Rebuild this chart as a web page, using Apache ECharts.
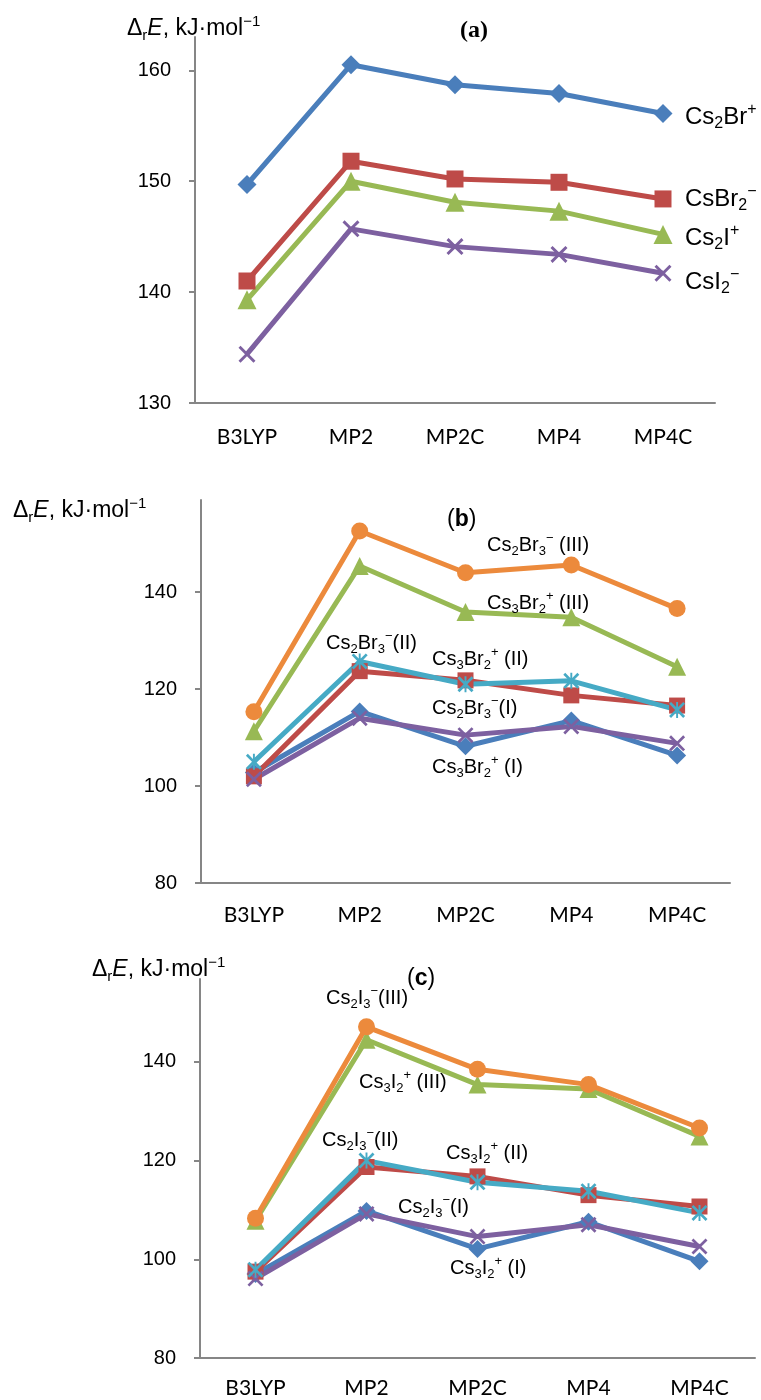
<!DOCTYPE html>
<html>
<head>
<meta charset="utf-8">
<script src="https://cdn.jsdelivr.net/npm/echarts@6/dist/echarts.min.js"></script>
<style>
  html, body { margin: 0; padding: 0; background: #fff; }
  #chart { width: 761px; height: 1400px; }
</style>
</head>
<body>
<div id="chart"></div>
<script>
// categories (methods)
const methods = ["B3LYP", "MP2", "MP2C", "MP4", "MP4C"];

// panel (a)
const cs2BrPlus = [149.7, 160.5, 158.7, 157.9, 156.1];
const csBr2Minus = [141.0, 151.8, 150.2, 149.9, 148.4];
const cs2IPlus = [139.3, 150.0, 148.1, 147.3, 145.2];
const csI2Minus = [134.4, 145.7, 144.1, 143.4, 141.7];

// panel (b)
const cs3Br2PlusI = [102.8, 115.4, 108.2, 113.5, 106.3];
const cs3Br2PlusII = [102.0, 123.7, 121.8, 118.7, 116.6];
const cs3Br2PlusIII = [111.3, 145.4, 135.9, 134.8, 124.6];
const cs2Br3MinusI = [101.4, 114.0, 110.5, 112.3, 108.8];
const cs2Br3MinusII = [105.0, 125.7, 121.0, 121.7, 115.7];
const cs2Br3MinusIII = [115.3, 152.6, 144.0, 145.6, 136.6];

// panel (c)
const cs3I2PlusI = [97.0, 109.8, 102.1, 107.6, 99.6];
const cs3I2PlusII = [97.5, 118.7, 116.8, 113.0, 110.7];
const cs3I2PlusIII = [107.8, 144.5, 135.4, 134.5, 124.9];
const cs2I3MinusI = [96.1, 109.2, 104.6, 107.0, 102.6];
const cs2I3MinusII = [97.9, 120.0, 115.6, 113.8, 109.4];
const cs2I3MinusIII = [108.3, 147.1, 138.5, 135.4, 126.6];

// y tick labels
const ticksA = [130, 140, 150, 160];
const ticksBC = [80, 100, 120, 140];

const BLUE = "#4A7EBB", RED = "#BE4B48", GREEN = "#98B954",
      PURPLE = "#7D60A0", TEAL = "#46AAC5", ORANGE = "#EC8A3C";
const AXIS = "#868686";
const SANS = "'Liberation Sans', Arial, sans-serif";

const X_SYMBOL = "path://M0,1.2L1.2,0L5,3.8L8.8,0L10,1.2L6.2,5L10,8.8L8.8,10L5,6.2L1.2,10L0,8.8L3.8,5Z";
const STAR_SYMBOL = X_SYMBOL + "M4.4,0L5.6,0L5.6,10L4.4,10Z";

const chart = echarts.init(document.getElementById("chart"));

function xAxisFor(i, margin) {
  return {
    gridIndex: i,
    type: "category",
    data: methods,
    boundaryGap: true,
    axisLine: { lineStyle: { color: AXIS, width: 2 } },
    axisTick: { length: 6, lineStyle: { color: AXIS, width: 2 } },
    axisLabel: { margin: margin, fontFamily: "Lato, 'Open Sans', sans-serif", fontSize: 21, color: "#000" },
    splitLine: { show: false }
  };
}

function yAxisFor(i, min, max, interval, ticks) {
  return {
    gridIndex: i,
    type: "value",
    min: min,
    max: max,
    interval: interval,
    axisLine: { show: true, lineStyle: { color: AXIS, width: 2 } },
    axisTick: { show: true, length: 6, customValues: ticks, lineStyle: { color: AXIS, width: 2 } },
    axisLabel: { margin: 24, customValues: ticks, fontFamily: SANS, fontSize: 20, color: "#000" },
    splitLine: { show: false }
  };
}

function line(name, data, idx, color, symbol, size) {
  return {
    name: name,
    type: "line",
    xAxisIndex: idx,
    yAxisIndex: idx,
    data: data,
    symbol: symbol,
    symbolSize: size,
    lineStyle: { color: color, width: 5 },
    itemStyle: { color: color },
    emphasis: { disabled: true }
  };
}

function richStyles(f) {
  const s = Math.round(f * 0.66);
  return {
    n: { fontSize: f, fontFamily: SANS, color: "#000", lineHeight: f + 6 },
    i: { fontSize: f, fontFamily: SANS, fontStyle: "italic", color: "#000", lineHeight: f + 6 },
    bb: { fontSize: f, fontFamily: SANS, fontWeight: "bold", color: "#000", lineHeight: f + 6 },
    b: { fontSize: s, fontFamily: SANS, color: "#000", lineHeight: s, verticalAlign: "bottom" },
    p: { fontSize: s, fontFamily: SANS, color: "#000", lineHeight: s, verticalAlign: "top" }
  };
}

function label(x, y, text, f) {
  return {
    type: "text",
    x: x,
    y: y,
    z: 100,
    style: { text: text, rich: richStyles(f), align: "left", verticalAlign: "middle" }
  };
}

const yTitle = "{n|Δ}{b|r}{i|E}{n|, kJ·mol}{p|−1}";

const option = {
  animation: false,
  backgroundColor: "#fff",
  grid: [
    { left: 195, top: 37, width: 520, height: 366 },
    { left: 201, top: 500, width: 529, height: 383 },
    { left: 200, top: 979, width: 555, height: 379 }
  ],
  xAxis: [xAxisFor(0, 24), xAxisFor(1, 22), xAxisFor(2, 20)],
  yAxis: [
    yAxisFor(0, 130, 163, 10, ticksA),
    yAxisFor(1, 80, 159, 20, ticksBC),
    yAxisFor(2, 80, 156.8, 20, ticksBC)
  ],
  series: [
    line("Cs2Br+", cs2BrPlus, 0, BLUE, "diamond", 19),
    line("CsBr2-", csBr2Minus, 0, RED, "rect", 17),
    line("Cs2I+", cs2IPlus, 0, GREEN, "triangle", 19),
    line("CsI2-", csI2Minus, 0, PURPLE, X_SYMBOL, 17),

    line("Cs3Br2+ (I)", cs3Br2PlusI, 1, BLUE, "diamond", 18),
    line("Cs3Br2+ (II)", cs3Br2PlusII, 1, RED, "rect", 16),
    line("Cs3Br2+ (III)", cs3Br2PlusIII, 1, GREEN, "triangle", 18),
    line("Cs2Br3- (I)", cs2Br3MinusI, 1, PURPLE, X_SYMBOL, 16),
    line("Cs2Br3- (II)", cs2Br3MinusII, 1, TEAL, STAR_SYMBOL, 16),
    line("Cs2Br3- (III)", cs2Br3MinusIII, 1, ORANGE, "circle", 17),

    line("Cs3I2+ (I)", cs3I2PlusI, 2, BLUE, "diamond", 18),
    line("Cs3I2+ (II)", cs3I2PlusII, 2, RED, "rect", 16),
    line("Cs3I2+ (III)", cs3I2PlusIII, 2, GREEN, "triangle", 18),
    line("Cs2I3- (I)", cs2I3MinusI, 2, PURPLE, X_SYMBOL, 16),
    line("Cs2I3- (II)", cs2I3MinusII, 2, TEAL, STAR_SYMBOL, 16),
    line("Cs2I3- (III)", cs2I3MinusIII, 2, ORANGE, "circle", 17)
  ],
  graphic: [
    // axis titles
    label(127, 29, yTitle, 23),
    label(13, 511, yTitle, 23),
    label(92, 970, yTitle, 23),
    // panel tags
    { type: "text", x: 474, y: 31, z: 100,
      style: { text: "(a)", font: "bold 24px 'Liberation Serif', serif", fill: "#000", align: "center", verticalAlign: "middle" } },
    label(447, 520, "{n|(}{bb|b}{n|)}", 23),
    label(407, 979, "{n|(}{bb|c}{n|)}", 23),
    // panel (a) series names
    label(685, 117, "{n|Cs}{b|2}{n|Br}{p|+}", 24),
    label(685, 199, "{n|CsBr}{b|2}{p|−}", 24),
    label(685, 238, "{n|Cs}{b|2}{n|I}{p|+}", 24),
    label(685, 282, "{n|CsI}{b|2}{p|−}", 24),
    // panel (b) series names
    label(487, 545, "{n|Cs}{b|2}{n|Br}{b|3}{p|−}{n| (III)}", 20),
    label(487, 603, "{n|Cs}{b|3}{n|Br}{b|2}{p|+}{n| (III)}", 20),
    label(326, 643, "{n|Cs}{b|2}{n|Br}{b|3}{p|−}{n|(II)}", 20),
    label(432, 659, "{n|Cs}{b|3}{n|Br}{b|2}{p|+}{n| (II)}", 20),
    label(432, 708, "{n|Cs}{b|2}{n|Br}{b|3}{p|−}{n|(I)}", 20),
    label(432, 767, "{n|Cs}{b|3}{n|Br}{b|2}{p|+}{n| (I)}", 20),
    // panel (c) series names
    label(326, 998, "{n|Cs}{b|2}{n|I}{b|3}{p|−}{n|(III)}", 20),
    label(359, 1082, "{n|Cs}{b|3}{n|I}{b|2}{p|+}{n| (III)}", 20),
    label(322, 1140, "{n|Cs}{b|2}{n|I}{b|3}{p|−}{n|(II)}", 20),
    label(446, 1153, "{n|Cs}{b|3}{n|I}{b|2}{p|+}{n| (II)}", 20),
    label(398, 1207, "{n|Cs}{b|2}{n|I}{b|3}{p|−}{n|(I)}", 20),
    label(450, 1268, "{n|Cs}{b|3}{n|I}{b|2}{p|+}{n| (I)}", 20)
  ]
};

chart.setOption(option);
</script>
</body>
</html>
